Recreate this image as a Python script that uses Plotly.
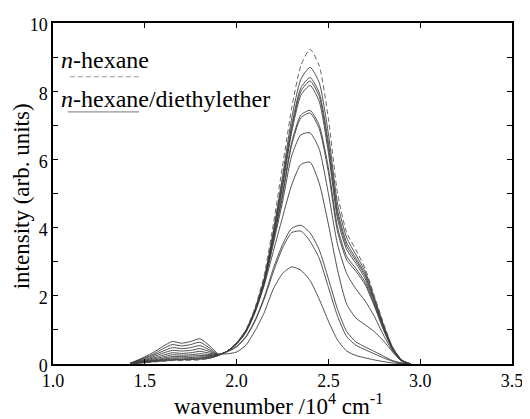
import plotly.graph_objects as go

# wavenumber grid (10^4 cm^-1)
wavenumber = [1.42, 1.50, 1.55, 1.60, 1.65, 1.70, 1.75, 1.80, 1.85, 1.90, 1.95,
              2.00, 2.05, 2.10, 2.15, 2.20, 2.25, 2.30, 2.35, 2.40, 2.45,
              2.50, 2.55, 2.60, 2.65, 2.70, 2.75, 2.80, 2.85, 2.90, 2.95]

# n-hexane (dashed)
hexane = [0.01, 0.04, 0.06, 0.08, 0.10, 0.10, 0.11, 0.12, 0.16, 0.25, 0.38,
          0.62, 1.00, 1.65, 2.60, 4.10, 5.80, 7.50, 8.75, 9.23, 8.75,
          7.20, 5.00, 3.85, 3.35, 2.80, 2.00, 1.20, 0.50, 0.12, 0.00]

# n-hexane/diethylether mixtures (solid)
mix_1 = [0.01, 0.04, 0.07, 0.09, 0.11, 0.12, 0.13, 0.14, 0.17, 0.25, 0.38,
         0.62, 0.98, 1.60, 2.50, 3.90, 5.50, 7.20, 8.35, 8.70, 8.25,
         6.75, 4.70, 3.70, 3.20, 2.72, 1.95, 1.15, 0.48, 0.11, 0.00]
mix_2 = [0.01, 0.05, 0.08, 0.10, 0.13, 0.13, 0.14, 0.16, 0.18, 0.25, 0.38,
         0.61, 0.97, 1.58, 2.47, 3.82, 5.38, 7.00, 8.10, 8.40, 7.95,
         6.50, 4.50, 3.55, 3.10, 2.64, 1.90, 1.12, 0.47, 0.11, 0.00]
mix_3 = [0.01, 0.06, 0.09, 0.12, 0.15, 0.15, 0.16, 0.18, 0.20, 0.25, 0.38,
         0.61, 0.97, 1.57, 2.45, 3.78, 5.28, 6.90, 8.00, 8.30, 7.85,
         6.35, 4.38, 3.45, 3.03, 2.58, 1.86, 1.10, 0.46, 0.10, 0.00]
mix_4 = [0.01, 0.07, 0.10, 0.14, 0.18, 0.18, 0.19, 0.21, 0.22, 0.26, 0.38,
         0.60, 0.96, 1.56, 2.42, 3.72, 5.18, 6.80, 7.88, 8.17, 7.70,
         6.20, 4.25, 3.35, 2.95, 2.50, 1.80, 1.07, 0.45, 0.10, 0.00]
mix_5 = [0.01, 0.08, 0.12, 0.17, 0.22, 0.22, 0.23, 0.25, 0.25, 0.26, 0.38,
         0.60, 0.95, 1.55, 2.40, 3.65, 5.00, 6.50, 7.30, 7.44, 7.00,
         5.75, 4.00, 3.15, 2.80, 2.40, 1.75, 1.03, 0.43, 0.10, 0.00]
mix_6 = [0.02, 0.09, 0.15, 0.21, 0.27, 0.26, 0.27, 0.30, 0.28, 0.27, 0.38,
         0.60, 0.95, 1.54, 2.38, 3.60, 4.92, 6.42, 7.22, 7.36, 6.90,
         5.62, 3.88, 3.05, 2.72, 2.33, 1.70, 1.00, 0.42, 0.09, 0.00]
mix_7 = [0.02, 0.11, 0.18, 0.26, 0.33, 0.31, 0.33, 0.37, 0.32, 0.27, 0.38,
         0.59, 0.94, 1.53, 2.35, 3.52, 4.75, 6.10, 6.72, 6.78, 6.30,
         5.00, 3.50, 2.65, 2.20, 1.85, 1.40, 0.85, 0.38, 0.08, 0.00]
mix_8 = [0.02, 0.13, 0.22, 0.32, 0.40, 0.38, 0.40, 0.45, 0.37, 0.27, 0.38,
         0.58, 0.92, 1.50, 2.30, 3.30, 4.30, 5.25, 5.85, 5.92, 5.30,
         4.10, 2.75, 1.75, 1.35, 1.15, 0.95, 0.68, 0.35, 0.08, 0.00]
mix_9 = [0.02, 0.16, 0.26, 0.38, 0.48, 0.45, 0.48, 0.54, 0.42, 0.27, 0.37,
         0.52, 0.80, 1.28, 1.95, 2.80, 3.50, 3.98, 4.07, 3.85, 3.35,
         2.50, 1.60, 0.95, 0.65, 0.50, 0.37, 0.23, 0.10, 0.03, 0.00]
mix_10 = [0.02, 0.18, 0.30, 0.45, 0.57, 0.53, 0.57, 0.64, 0.48, 0.28, 0.36,
          0.50, 0.78, 1.25, 1.90, 2.70, 3.40, 3.85, 3.90, 3.60, 3.10,
          2.25, 1.40, 0.80, 0.55, 0.42, 0.30, 0.18, 0.08, 0.02, 0.00]
mix_11 = [0.02, 0.21, 0.35, 0.52, 0.66, 0.61, 0.66, 0.74, 0.55, 0.30, 0.30,
          0.35, 0.55, 0.97, 1.50, 2.20, 2.65, 2.85, 2.75, 2.45, 1.90,
          1.26, 0.70, 0.38, 0.25, 0.18, 0.12, 0.07, 0.03, 0.01, 0.00]

mixtures = [mix_1, mix_2, mix_3, mix_4, mix_5, mix_6, mix_7, mix_8, mix_9, mix_10, mix_11]

x_ticks = [1.0, 1.5, 2.0, 2.5, 3.0, 3.5]
x_ticklabels = ["1.0", "1.5", "2.0", "2.5", "3.0", "3.5"]
y_ticks = [0, 2, 4, 6, 8, 10]

FONT = "Liberation Serif, Times New Roman, serif"
LINE = "#3c3c3c"

# the page body adds an 8px offset; the figure is sized to fill the 530x419 window
OFF = 8
W, H = 530 - OFF, 419 - OFF
L, R, T, B = 53 - OFF, 13, 15 - OFF, 55
PW, PH = W - L - R, H - T - B

fig = go.Figure()
for i, ys in enumerate(mixtures):
    fig.add_trace(go.Scatter(x=wavenumber, y=ys, mode="lines",
                             line=dict(color=LINE, width=0.9, shape="spline", smoothing=0.6),
                             showlegend=False, hoverinfo="skip"))
fig.add_trace(go.Scatter(x=wavenumber, y=hexane, mode="lines",
                         line=dict(color="#555555", width=0.9, dash="5px,3px",
                                   shape="spline", smoothing=0.6),
                         showlegend=False, hoverinfo="skip"))

axis_common = dict(showline=True, linecolor="black", linewidth=1.5, mirror="ticks",
                   ticks="inside", ticklen=5, tickwidth=1.2, tickcolor="black",
                   showgrid=False, zeroline=False,
                   tickfont=dict(family=FONT, size=18, color="black"))

fig.update_xaxes(range=[1.0, 3.5], tickvals=x_ticks, ticktext=x_ticklabels, **axis_common)
fig.update_yaxes(range=[0, 10], tickvals=y_ticks, ticklabelshift=2, ticklabeloverflow="allow",
                 minor=dict(dtick=1, ticks="inside", ticklen=5, tickwidth=1.2, tickcolor="black"),
                 **axis_common)

# helpers: convert window pixel positions to paper coordinates
def px_x(p):
    return (p - 53) / PW

def px_y(p):
    return (364 - p) / PH

annotations = [
    dict(text="intensity (arb. units)", x=px_x(22), y=px_y(192), xref="paper", yref="paper",
         textangle=-90, showarrow=False, xanchor="center", yanchor="middle",
         font=dict(family=FONT, size=23, color="black")),
    dict(text="wavenumber /10<sup>4</sup> cm<sup>-1</sup>", x=px_x(281), y=px_y(405),
         xref="paper", yref="paper", showarrow=False, xanchor="center", yanchor="middle",
         font=dict(family=FONT, size=23, color="black")),
    dict(text="<i>n</i>-hexane", x=px_x(59), y=px_y(53), xref="paper", yref="paper",
         showarrow=False, xanchor="left", yanchor="middle",
         font=dict(family=FONT, size=24, color="black")),
    dict(text="<i>n</i>-hexane/diethylether", x=px_x(59), y=px_y(93), xref="paper", yref="paper",
         showarrow=False, xanchor="left", yanchor="middle",
         font=dict(family=FONT, size=24, color="black")),
]

shapes = [
    dict(type="line", xref="paper", yref="paper", x0=px_x(70), x1=px_x(143),
         y0=px_y(70), y1=px_y(70), line=dict(color="#999999", width=1, dash="5px,3px")),
    dict(type="line", xref="paper", yref="paper", x0=px_x(68), x1=px_x(140),
         y0=px_y(106), y1=px_y(106), line=dict(color="#777777", width=1)),
]

fig.update_layout(width=W, height=H, margin=dict(l=L, r=R, t=T, b=B),
                  paper_bgcolor="white", plot_bgcolor="white",
                  annotations=annotations, shapes=shapes, showlegend=False)

fig.write_html("out.html")
